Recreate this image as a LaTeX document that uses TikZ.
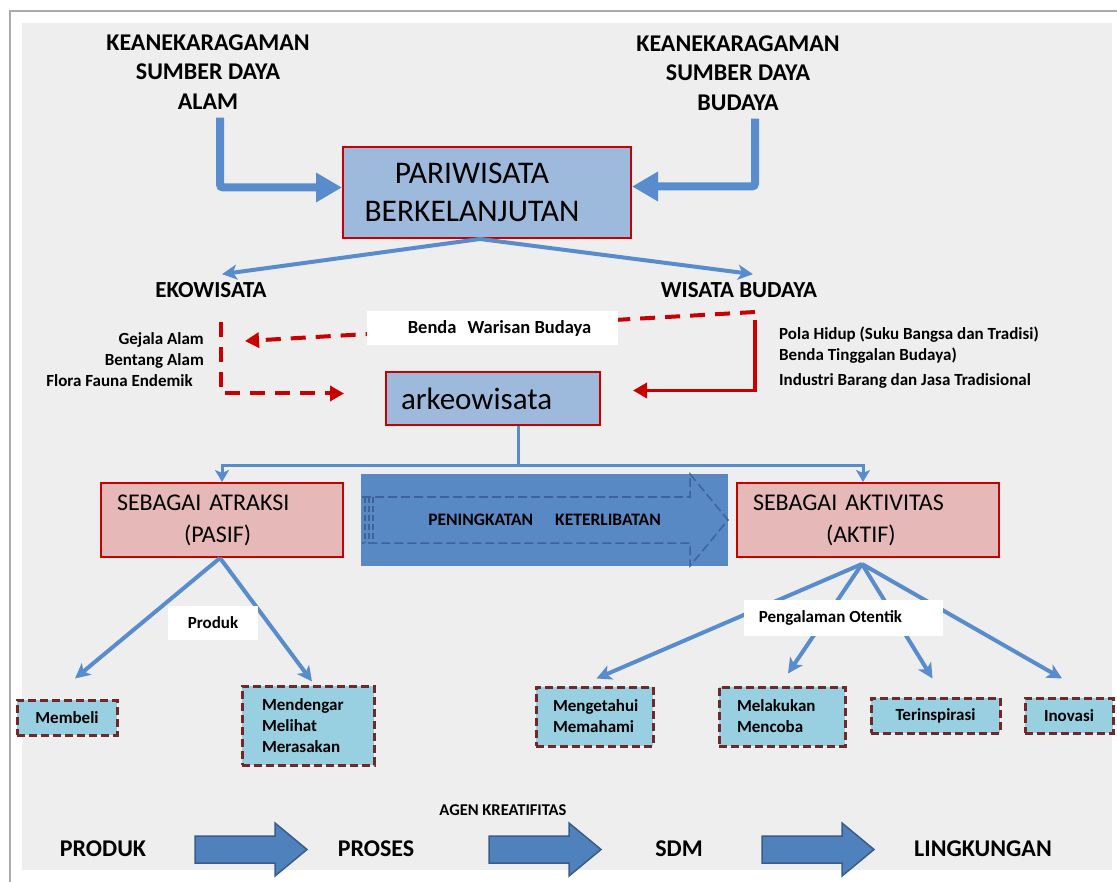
\documentclass[tikz,border=0pt]{standalone}
\usepackage{fontspec}
\setmainfont{Carlito}
\usetikzlibrary{arrows.meta,calc}

\definecolor{panel}{RGB}{238,238,238}
\definecolor{framegray}{RGB}{170,170,170}
\definecolor{steel}{RGB}{157,186,221}
\definecolor{boxred}{RGB}{200,0,0}
\definecolor{rose}{RGB}{230,185,184}
\definecolor{linkblue}{RGB}{88,140,204}
\definecolor{bandblue}{RGB}{88,137,196}
\definecolor{banddash}{RGB}{62,98,156}
\definecolor{leafcyan}{RGB}{152,208,226}
\definecolor{leafedge}{RGB}{112,40,40}
\definecolor{flowblue}{RGB}{79,129,189}
\definecolor{flowedge}{RGB}{56,93,138}

\tikzset{
  hdr/.style={font=\bfseries\fontsize{24}{29.5}\selectfont, align=center, inner sep=0pt},
  branch/.style={font=\bfseries\fontsize{23}{28}\selectfont, inner sep=0pt},
  note/.style={font=\bfseries\fontsize{17}{21}\selectfont, inner sep=0pt},
  mainbox/.style={draw=boxred, fill=steel, line width=2pt, inner sep=0pt},
  rolebox/.style={draw=boxred, fill=rose, line width=2pt, font=\fontsize{24}{32}\selectfont, align=left, inner xsep=16pt, inner ysep=0pt},
  leaf/.style={draw=leafedge, fill=leafcyan, line width=3pt, dash pattern=on 8pt off 4pt, font=\bfseries\fontsize{17}{21}\selectfont, inner xsep=18pt, inner ysep=0pt},
  tag/.style={fill=white, font=\bfseries\fontsize{17}{21}\selectfont, inner sep=0pt},
  fat/.style={draw=linkblue, line width=8pt, -{Triangle[length=26pt,width=28pt]}, rounded corners=3pt},
  link/.style={draw=linkblue, line width=4pt, -{Stealth[length=15pt,width=15pt,inset=4pt]}},
  drop/.style={draw=linkblue, line width=3pt, -{Stealth[length=12pt,width=14pt,inset=3pt]}},
  reddash/.style={draw=boxred, line width=4pt, dash pattern=on 15pt off 10pt, -{Triangle[length=14pt,width=15pt]}},
  redline/.style={draw=boxred, line width=3.5pt, -{Triangle[length=14pt,width=15pt]}},
  flow/.style={draw=flowedge, fill=flowblue, line width=1.5pt, line join=miter},
  flowtext/.style={font=\bfseries\fontsize{24}{24}\selectfont, inner sep=0pt},
}

\begin{document}
\begin{tikzpicture}[x=1pt,y=-1pt]
\useasboundingbox (0,0) rectangle (1117,882);
% page and panel
\fill[white] (0,0) rectangle (1117,882);
\draw[framegray, line width=1.5pt] (10,882) -- (10,11) -- (1117,11);
\fill[panel] (22,23) rectangle (1112,870);

% sources
\node[hdr] (alam) at (208,72) {KEANEKARAGAMAN\\SUMBER DAYA\\ALAM};
\node[hdr] (budaya) at (738,73) {KEANEKARAGAMAN\\SUMBER DAYA\\BUDAYA};

% central concept
\node[mainbox, minimum width=288pt, minimum height=91pt, align=center,
      font=\fontsize{31.5}{38}\selectfont] (pb) at (487,192.5)
  {PARIWISATA\hspace*{30pt}\\BERKELANJUTAN\hspace*{30pt}};

\draw[fat] ([xshift=12pt,yshift=-8pt]alam.south) |- ([yshift=5pt]pb.west);
\draw[fat] ([xshift=17pt,yshift=-8pt]budaya.south) |- ([yshift=6pt]pb.east);

% two branches
\node[branch] (eko) at (211,290) {EKOWISATA};
\node[branch] (wb) at (739,290) {WISATA BUDAYA};
\draw[link] ([xshift=-7pt]pb.south) -- ($(eko.north)+(11,-8)$);
\draw[link] ([xshift=-7pt]pb.south) -- ($(wb.north)+(14,-8)$);

% resource lists
\node[note, align=right, anchor=east] (alamlist) at (204,360)
  {Gejala Alam\\Bentang Alam\\Flora Fauna Endemik\hspace*{11pt}};
\node[note, align=left, anchor=west] (budlist) at (779,358)
  {Pola Hidup (Suku Bangsa dan Tradisi)\\Benda Tinggalan Budaya)\\[4pt]Industri Barang dan Jasa Tradisional};

% arkeowisata
\node[mainbox, minimum height=53pt, text width=184pt, inner xsep=15pt, align=left,
      font=\fontsize{31}{36}\selectfont] (ark) at (493,398.5) {arkeowisata};

\coordinate (heritagestart) at (755,312);
\coordinate (heritageend) at (245,341);
\coordinate (ekodrop) at (221,322);
\coordinate (wbdrop) at (755,320);
\draw[reddash] (heritagestart) -- (heritageend);
\draw[reddash] (ekodrop) |- ($(ark.west)+(-41,-5)$);
\draw[redline] (wbdrop) |- ($(ark.east)+(32,-8)$);
\node[tag, minimum width=251pt, minimum height=34pt, font=\bfseries\fontsize{18.5}{22}\selectfont]
  (benda) at (492.5,328) {\hspace*{14pt}Benda\hspace{11pt}Warisan Budaya};

% roles
\node[rolebox, minimum height=74pt, text width=210pt] (atr) at (222,520)
  {SEBAGAI ATRAKSI\\\hspace*{67pt}(PASIF)};
\node[rolebox, minimum height=74pt, text width=230pt] (akt) at (868,520)
  {SEBAGAI AKTIVITAS\\\hspace*{73pt}(AKTIF)};

\draw[draw=linkblue, line width=3pt] ($(ark.south)+(25,0)$) -- ($(ark.south)+(25,40)$) coordinate (hub);
\draw[drop] (hub) -| (atr.north);
\draw[drop] (hub) -| ($(akt.north)+(-5,0)$);

% engagement band
\node[fill=bandblue, minimum width=367pt, minimum height=92pt, inner sep=0pt,
      font=\bfseries\fontsize{17.5}{17.5}\selectfont] (band) at (544.5,520)
  {PENINGKATAN\hspace{22pt}KETERLIBATAN};
\draw[banddash, line width=1.5pt, dash pattern=on 9pt off 4pt]
  (362,497) -- (690,497) -- (690,474) -- (728,520) -- (690,566) -- (690,543) -- (362,543);
\foreach \x in {365,369,373}
  \draw[banddash, line width=1.2pt, dash pattern=on 6pt off 3pt] (\x,497) -- (\x,543);

% outcomes
\node[leaf, text width=64pt, minimum height=35pt, align=center] (membeli) at (67,717.5) {Membeli};
\node[leaf, text width=92pt, inner xsep=20pt, minimum height=79pt, align=left] (mendengar) at (308,725.5)
  {Mendengar\\Melihat\\Merasakan};
\node[leaf, text width=83pt, inner xsep=17pt, minimum height=59pt, align=left] (mengetahui) at (594.5,716.5)
  {Mengetahui\\Memahami};
\node[leaf, text width=90pt, minimum height=59pt, align=left] (melakukan) at (782,716.5)
  {Melakukan\\Mencoba};
\node[leaf, text width=93pt, minimum height=35pt, align=center] (terinspirasi) at (935.5,715.5) {Terinspirasi};
\node[leaf, text width=52pt, minimum height=35pt, align=center] (inovasi) at (1069,715.5) {Inovasi};

\draw[link] ($(atr.south)+(-2,0)$) -- ($(membeli.north)+(8,-20)$);
\draw[link] ($(atr.south)+(-2,0)$) -- ($(mendengar.north)+(4,-3)$);
\draw[link] ($(akt.south)+(-6,6)$) -- ($(mengetahui.north)+(2,-7)$);
\draw[link] ($(akt.south)+(-6,6)$) -- ($(melakukan.north)+(6,-12)$);
\draw[link] ($(akt.south)+(-6,6)$) -- ($(terinspirasi.north)+(-3,-18)$);
\draw[link] ($(akt.south)+(-6,6)$) -- ($(inovasi.north)+(-7,-18)$);

\node[tag, minimum width=90pt, minimum height=34pt] (produk) at (213,623) {Produk};
\node[tag, minimum width=199pt, minimum height=36pt] (otentik) at (843.5,618)
  {Pengalaman Otentik\hspace*{26pt}};

% value chain
\node[flowtext] (s1) at (103,849) {PRODUK};
\node[flowtext] (s2) at (376,849) {PROSES};
\node[flowtext] (s3) at (679,849) {SDM};
\node[flowtext] (s4) at (983,849) {LINGKUNGAN};
\node[font=\bfseries\fontsize{16.5}{17}\selectfont, inner sep=0pt] (agen) at (503,810) {AGEN KREATIFITAS};

\foreach \a in {195,489,762}{
  \draw[flow] (\a,836) -- (\a+80,836) -- (\a+80,823) -- (\a+112,849.5)
    -- (\a+80,876) -- (\a+80,863) -- (\a,863) -- cycle;
}
\end{tikzpicture}
\end{document}
